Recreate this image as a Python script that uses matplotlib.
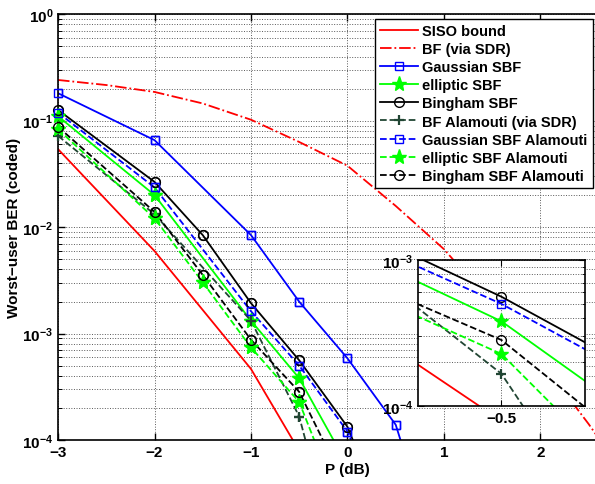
import numpy as np
import matplotlib
matplotlib.use("Agg")
import matplotlib.pyplot as plt
from matplotlib.ticker import LogLocator, NullFormatter, FixedLocator

plt.rcParams['font.family'] = 'Liberation Sans'
plt.rcParams['font.weight'] = 'bold'
plt.rcParams['font.size'] = 11
plt.rcParams['mathtext.fontset'] = 'custom'
plt.rcParams['mathtext.rm'] = 'Liberation Sans:bold'
plt.rcParams['mathtext.bf'] = 'Liberation Sans:bold'
plt.rcParams['mathtext.default'] = 'bf'

# data
p_siso = [-3, -2, -1, -0.5, 0]
ber_siso = [0.054, 5.96e-3, 4.65e-4, 7.9e-5, 1.2e-5]

p_bf = [-3, -2.5, -2, -1.5, -1, -0.5, 0, 0.5, 1, 1.5, 2, 2.5, 3]
ber_bf = [0.241, 0.216, 0.186, 0.145, 0.102, 0.063, 0.0377, 0.0158, 6.2e-3, 1.9e-3, 5.6e-4, 1.41e-4, 3.2e-5]

p_gauss = [-3, -2, -1, -0.5, 0, 0.5, 1]
ber_gauss = [0.181, 0.0656, 8.41e-3, 1.99e-3, 5.85e-4, 1.39e-4, 5e-6]

p_ell = [-3, -2, -1, -0.5, 0]
ber_ell = [0.110, 0.020, 1.32e-3, 3.8e-4, 5.8e-5]

p_bing = [-3, -2, -1.5, -1, -0.5, 0, 0.5]
ber_bing = [0.126, 0.0266, 8.41e-3, 1.93e-3, 5.6e-4, 1.33e-4, 1e-5]

p_bf_ala = [-3, -2, -1, -0.5, 0]
ber_bf_ala = [0.072, 0.0132, 1.32e-3, 1.66e-4, 3.2e-6]

p_gauss_ala = [-3, -2, -1, -0.5, 0, 0.5]
ber_gauss_ala = [0.119, 0.0236, 1.62e-3, 5.0e-4, 1.2e-4, 1e-5]

p_ell_ala = [-3, -2, -1.5, -1, -0.5, 0]
ber_ell_ala = [0.083, 0.0121, 3.03e-3, 7.4e-4, 2.27e-4, 1.62e-5]

p_bing_ala = [-3, -2, -1.5, -1, -0.5, 0]
ber_bing_ala = [0.0875, 0.0139, 3.55e-3, 8.75e-4, 2.83e-4, 3.4e-5]

labels = ["SISO bound", "BF (via SDR)", "Gaussian SBF", "elliptic SBF", "Bingham SBF",
          "BF Alamouti (via SDR)", "Gaussian SBF Alamouti", "elliptic SBF Alamouti",
          "Bingham SBF Alamouti"]

dkgreen = (0.13, 0.27, 0.2)
series = [
    (p_siso, ber_siso, dict(color='r', ls='-', marker='None')),
    (p_bf, ber_bf, dict(color='r', ls='-.', marker='None')),
    (p_gauss, ber_gauss, dict(color='b', ls='-', marker='s', mfc='none', ms=6)),
    (p_ell, ber_ell, dict(color=(0, 1, 0), ls='-', marker='*', ms=11)),
    (p_bing, ber_bing, dict(color='k', ls='-', marker='o', mfc='none', ms=7)),
    (p_bf_ala, ber_bf_ala, dict(color=dkgreen, ls='--', marker='+', ms=7, mew=1.6)),
    (p_gauss_ala, ber_gauss_ala, dict(color='b', ls='--', marker='s', mfc='none', ms=6)),
    (p_ell_ala, ber_ell_ala, dict(color=(0, 1, 0), ls='--', marker='*', ms=11)),
    (p_bing_ala, ber_bing_ala, dict(color='k', ls='--', marker='o', mfc='none', ms=7)),
]

fig = plt.figure(figsize=(5.95, 4.85), dpi=100)
# the axes run past the right edge of the picture, as in the reference
ax = fig.add_axes([0.0975, 0.0907, 0.973, 0.878])
ax.set_facecolor('white')

handles = []
for (p, b, st), lab in zip(series, labels):
    h, = ax.plot(p, b, lw=1.3, label=lab, **st)
    handles.append(h)
    # markers are not clipped at the frame (MATLAB style)
    pa, ba = np.array(p), np.array(b)
    keep = ba >= 1e-4
    if st['marker'] != 'None':
        kw = {k: v for k, v in st.items() if k != 'ls'}
        ax.plot(pa[keep], ba[keep], ls='none', clip_on=False, zorder=3, **kw)

ax.set_yscale('log')
ax.set_xlim(-3, 3)
ax.set_ylim(1e-4, 1)
ax.set_xticks([-3, -2, -1, 0, 1, 2])
ax.yaxis.set_major_locator(FixedLocator([1e-4, 1e-3, 1e-2, 1e-1, 1]))
ax.set_yticklabels([r'$10^{-4}$', r'$10^{-3}$', r'$10^{-2}$', r'$10^{-1}$', r'$10^{0}$'])
ax.yaxis.set_minor_locator(LogLocator(base=10, subs=np.arange(2, 10), numticks=20))
ax.yaxis.set_minor_formatter(NullFormatter())
ax.tick_params(which='both', direction='in', top=True, right=True, labelsize=11)
ax.tick_params(which='major', length=5, width=1)
ax.tick_params(which='minor', length=3, width=0.7)
ax.grid(True, which='major', ls=':', color='0.35', lw=0.7)
ax.grid(True, which='minor', axis='y', ls=':', color='0.35', lw=0.7)
for s in ax.spines.values():
    s.set_linewidth(1.2)
ax.set_xlabel('P (dB)', fontsize=11, fontweight='bold', labelpad=2)
ax.set_ylabel('Worst\u2212user BER (coded)', fontsize=11, fontweight='bold', labelpad=1)

leg = ax.legend(handles=handles, loc='upper right', bbox_to_anchor=(592.7 / 595, (485 - 20) / 485),
                bbox_transform=fig.transFigure, borderaxespad=0, fancybox=False, framealpha=1,
                edgecolor='k', numpoints=1, handlelength=2.6, handletextpad=0.3,
                labelspacing=0.28, borderpad=0.35, prop={'weight': 'bold', 'size': 10.5})
leg.get_frame().set_linewidth(1.0)

# inset zoom around -0.5 dB
axi = fig.add_axes([418 / 595, (485 - 407) / 485, 167 / 595, 146 / 485])
for (p, b, st), lab in zip(series, labels):
    axi.plot(p, b, lw=1.3, **st)
axi.set_yscale('log')
axi.set_xlim(-0.75, -0.25)
axi.set_ylim(1e-4, 1e-3)
axi.set_xticks([-0.5])
axi.set_xticklabels(['\u22120.5'])
axi.yaxis.set_major_locator(FixedLocator([1e-4, 1e-3]))
axi.set_yticklabels([r'$10^{-4}$', r'$10^{-3}$'])
axi.yaxis.set_minor_locator(LogLocator(base=10, subs=np.arange(2, 10), numticks=20))
axi.yaxis.set_minor_formatter(NullFormatter())
axi.tick_params(which='both', direction='in', top=True, right=True, labelsize=11)
axi.tick_params(which='major', length=4)
axi.tick_params(which='minor', length=2.5)
axi.grid(True, which='major', ls=':', color='0.35', lw=0.7)
axi.grid(True, which='minor', axis='y', ls=':', color='0.35', lw=0.7)
for s in axi.spines.values():
    s.set_linewidth(1.2)

fig.savefig('out.png', dpi=100)
